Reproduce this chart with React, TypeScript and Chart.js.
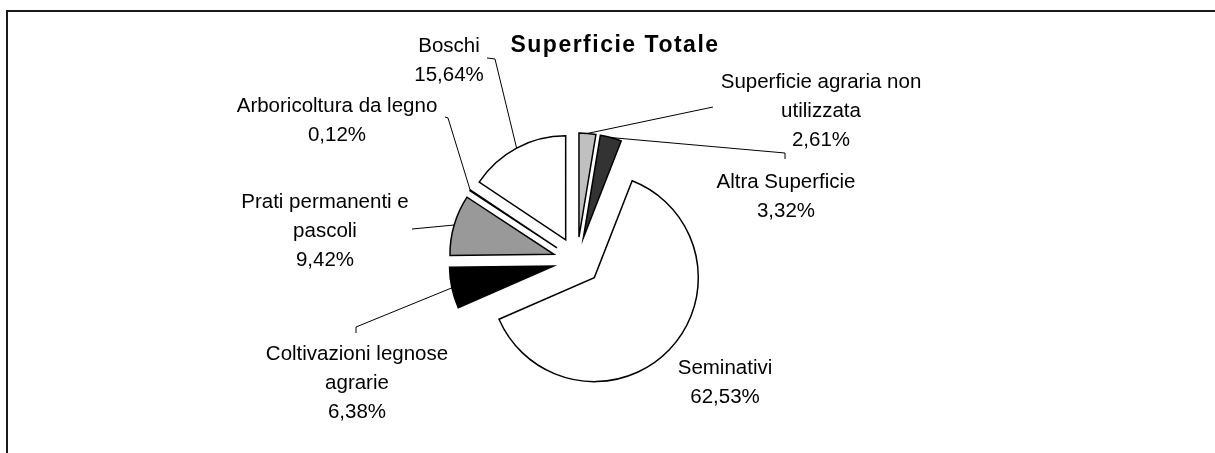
import React, { useEffect, useRef } from 'react';
import { Chart, registerables } from 'chart.js';

Chart.register(...registerables);

// ---- data ----
const TITLE = 'Superficie Totale';
const CATEGORIES = [
  'Superficie agraria non utilizzata',
  'Altra Superficie',
  'Seminativi',
  'Coltivazioni legnose agrarie',
  'Prati permanenti e pascoli',
  'Arboricoltura da legno',
  'Boschi',
];
const SHARES = [2.61, 3.32, 62.53, 6.38, 9.42, 0.12, 15.64];
const LABEL_LINES = [
  ['Superficie agraria non', 'utilizzata'],
  ['Altra Superficie'],
  ['Seminativi'],
  ['Coltivazioni legnose', 'agrarie'],
  ['Prati permanenti e', 'pascoli'],
  ['Arboricoltura da legno'],
  ['Boschi'],
];

// ---- styles / layout ----
const COLORS = ['#c0c0c0', '#333333', '#ffffff', '#000000', '#999999', '#ffffff', '#ffffff'];
const EXPLODE = 24;
const PIE_RADIUS = 104;
const LABEL_FONT = '20.5px "Liberation Sans", Arial, sans-serif';
const TITLE_FONT = 'bold 23px "Liberation Sans", Arial, sans-serif';
const LINE_GAP = 29;
const LABEL_POS = [
  { x: 821, y: 88 },
  { x: 786, y: 188 },
  { x: 725, y: 374 },
  { x: 357, y: 360 },
  { x: 325, y: 208 },
  { x: 337, y: 112 },
  { x: 449, y: 52 },
];
const LEADER_START: number[][][] = [
  [[713, 107]],
  [[785, 159], [785, 153]],
  [],
  [[356, 333], [356, 327]],
  [[412, 229]],
  [[445, 117], [448, 118]],
  [[487, 58], [495, 59]],
];

const fmtPct = (v: number) => v.toFixed(2).replace('.', ',') + '%';

const explodePlugin = {
  id: 'explodeSlices',
  beforeDatasetDraw(chart: any, args: any) {
    const ctx = chart.ctx;
    args.meta.data.forEach((arc: any) => {
      const mid = (arc.startAngle + arc.endAngle) / 2;
      ctx.save();
      ctx.translate(Math.cos(mid) * EXPLODE, Math.sin(mid) * EXPLODE);
      arc.draw(ctx, chart.chartArea);
      ctx.restore();
    });
    return false;
  },
};

const labelPlugin = {
  id: 'pieLabels',
  afterDraw(chart: any) {
    const ctx = chart.ctx;
    const meta = chart.getDatasetMeta(0);
    ctx.save();
    // frame
    ctx.strokeStyle = '#1a1a1a';
    ctx.lineWidth = 2;
    ctx.strokeRect(7, 11, 1400, 700);

    // title
    ctx.fillStyle = '#000';
    ctx.textAlign = 'center';
    ctx.textBaseline = 'alphabetic';
    ctx.font = TITLE_FONT;
    try { (ctx as any).letterSpacing = '1.5px'; } catch (e) {}
    ctx.fillText(TITLE, 615, 52);
    try { (ctx as any).letterSpacing = '0px'; } catch (e) {}

    // labels
    ctx.font = LABEL_FONT;
    meta.data.forEach((arc: any, i: number) => {
      const lines = [...LABEL_LINES[i], fmtPct(SHARES[i])];
      const p = LABEL_POS[i];
      lines.forEach((t, k) => ctx.fillText(t, p.x, p.y + k * LINE_GAP));

      const pts = LEADER_START[i];
      if (pts.length) {
        const mid = (arc.startAngle + arc.endAngle) / 2;
        const r = arc.outerRadius + EXPLODE;
        const ex = arc.x + Math.cos(mid) * r;
        const ey = arc.y + Math.sin(mid) * r;
        ctx.strokeStyle = '#000';
        ctx.lineWidth = 1;
        ctx.beginPath();
        ctx.moveTo(pts[0][0], pts[0][1]);
        for (let k = 1; k < pts.length; k++) ctx.lineTo(pts[k][0], pts[k][1]);
        ctx.lineTo(ex, ey);
        ctx.stroke();
      }
    });
    ctx.restore();
  },
};

export default function App() {
  const ref = useRef<HTMLCanvasElement>(null);
  useEffect(() => {
    if (!ref.current) return;
    const chart = new Chart(ref.current, {
      type: 'pie',
      data: {
        labels: CATEGORIES,
        datasets: [
          {
            data: SHARES,
            backgroundColor: COLORS,
            borderColor: '#000',
            borderWidth: 1.5,
            borderJoinStyle: 'miter',
            radius: PIE_RADIUS,
          } as any,
        ],
      },
      options: {
        responsive: false,
        animation: false,
        events: [],
        layout: { padding: { left: 0, right: 61, top: 69, bottom: 0 } },
        plugins: {
          legend: { display: false },
          tooltip: { enabled: false },
          title: { display: false },
        },
      },
      plugins: [explodePlugin, labelPlugin],
    });
    return () => chart.destroy();
  }, []);
  return (
    <div style={{ position: 'fixed', left: 0, top: 0, width: 1215, height: 453, background: '#fff' }}>
      <canvas ref={ref} width={1215} height={453} style={{ display: 'block', width: 1215, height: 453 }} />
    </div>
  );
}
